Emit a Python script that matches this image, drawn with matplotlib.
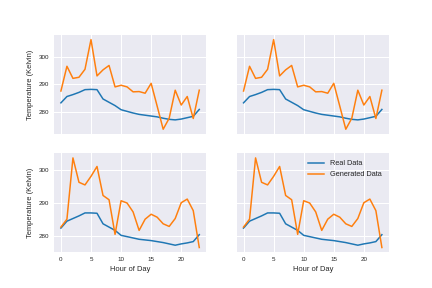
import matplotlib
matplotlib.use("Agg")
import matplotlib.pyplot as plt
import numpy as np

hours = list(range(24))

real_top = [283.2, 285.5, 286.2, 287.0, 288.0, 288.1, 288.0, 284.6, 283.4, 282.2,
            280.7, 280.1, 279.5, 279.0, 278.7, 278.4, 278.1, 277.6, 277.2, 277.0,
            277.3, 277.8, 278.3, 280.8]
gen_top = [287.5, 296.5, 292.1, 292.5, 295.4, 306.2, 293.0, 295.2, 296.8, 289.0,
           289.6, 289.0, 287.2, 287.3, 286.7, 290.3, 282.0, 273.6, 277.6, 287.8,
           282.4, 285.5, 277.5, 287.8]
real_bot = [282.3, 284.4, 285.2, 286.0, 286.9, 286.9, 286.8, 283.6, 282.6, 281.6,
            280.1, 279.7, 279.3, 278.9, 278.7, 278.5, 278.2, 277.9, 277.5, 277.1,
            277.5, 277.8, 278.2, 280.3]
gen_bot = [282.6, 285.0, 303.6, 296.2, 295.4, 298.0, 301.0, 292.2, 290.9, 280.4,
           290.6, 289.9, 287.2, 281.6, 285.0, 286.5, 285.6, 283.6, 282.8, 285.2,
           290.0, 291.1, 287.6, 276.4]

x_label = "Hour of Day"
y_label = "Temperature (Kelvin)"
legend_labels = ["Real Data", "Generated Data"]

plt.rcParams.update({
    "font.family": ["Liberation Sans", "DejaVu Sans"],
    "axes.facecolor": "#EAEAF2",
    "figure.facecolor": "white",
    "axes.edgecolor": "white",
    "grid.color": "white",
    "axes.grid": True,
    "axes.axisbelow": True,
    "text.color": "#262626",
    "axes.labelcolor": "#262626",
    "xtick.color": "#262626",
    "ytick.color": "#262626",
})

fig, axes = plt.subplots(2, 2, figsize=(6, 4), dpi=72, sharex=True, sharey="row")
fig.subplots_adjust(left=0.125, right=0.9, top=0.878, bottom=0.125, wspace=0.2, hspace=0.2)

data = [(real_top, gen_top), (real_bot, gen_bot)]
for r in range(2):
    for c in range(2):
        ax = axes[r, c]
        real, gen = data[r]
        ax.plot(hours, real, color="#1f77b4", lw=1.5, label=legend_labels[0])
        ax.plot(hours, gen, color="#ff7f0e", lw=1.5, label=legend_labels[1])
        for s in ax.spines.values():
            s.set_visible(False)
        ax.grid(True, color="white", lw=1.0)
        ax.tick_params(length=0, labelsize=6.2, pad=5)
        ax.set_xticks([0, 5, 10, 15, 20])
        ax.set_yticks([280, 290, 300])
        if c == 0:
            ax.set_ylabel(y_label, fontsize=7.5)
        if r == 1:
            ax.set_xlabel(x_label, fontsize=7.5)

axes[1, 1].legend(loc="upper right", frameon=False, fontsize=7.4, handlelength=2.2)

fig.savefig("out.png", dpi=72)
